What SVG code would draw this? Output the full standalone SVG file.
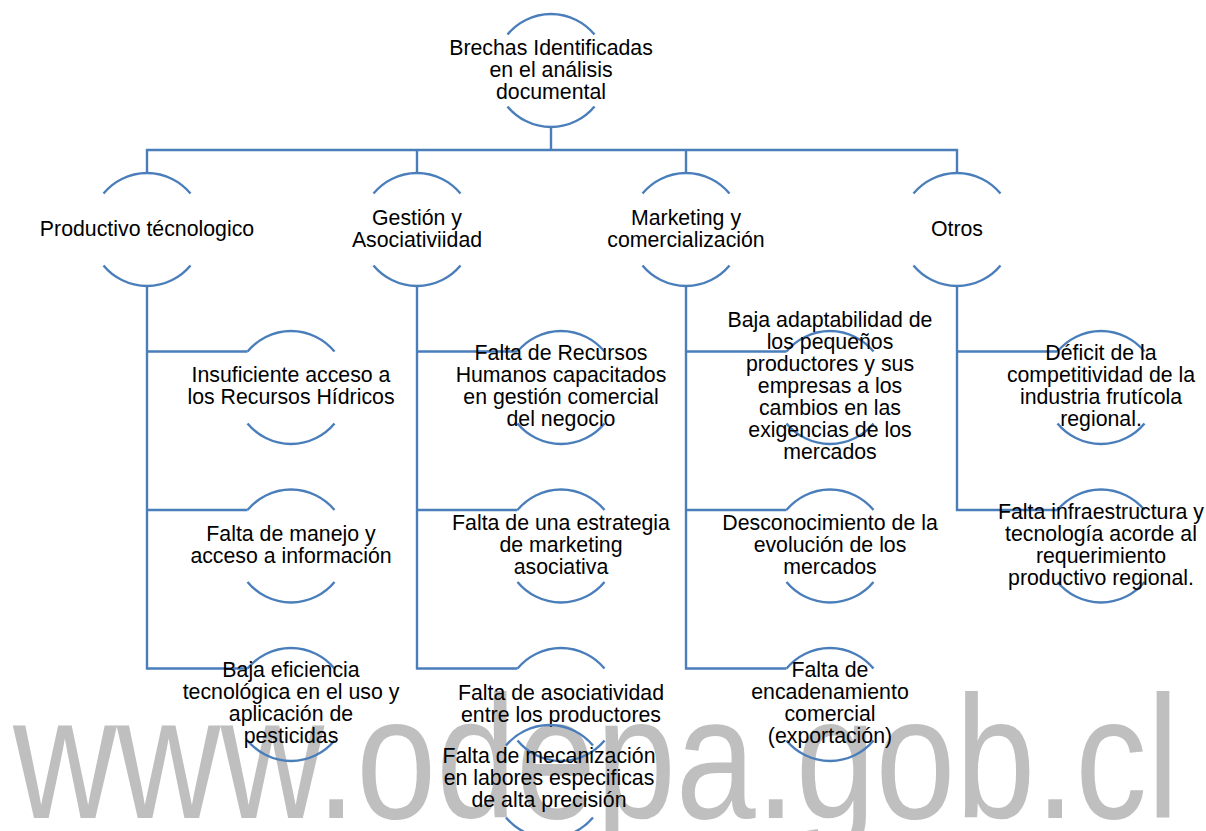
<svg xmlns="http://www.w3.org/2000/svg" width="1206" height="831" viewBox="0 0 1206 831">
<style>
.arc{fill:none;stroke:#4a7ebb;stroke-width:2.4}
.con{fill:none;stroke:#4a7ebb;stroke-width:2.4}
.t{font-family:"Liberation Sans",Arial,sans-serif;font-size:21.3px;fill:#000;text-anchor:middle}
.wm{font-family:"Liberation Sans",Arial,sans-serif;font-size:174px;fill:#bfbfbf}
</style>
<rect width="1206" height="831" fill="#fff"/>
<text class="wm" x="13" y="818" textLength="1166" lengthAdjust="spacingAndGlyphs">www.odepa.gob.cl</text>
<g id="connectors">
<path class="con" d="M551,127 V150 M147,173 V150 H957 V173 M417,150 V173 M686,150 V173"/>
<path class="con" d="M147,286 V668.5 H247.5 M147,351.5 H247.5 M147,510 H247.5"/>
<path class="con" d="M417,286 V668.5 H517.5 M417,351.5 H517.5 M417,510 H517.5"/>
<path class="con" d="M686,286 V668.5 H786.5 M686,351.5 H786.5 M686,510 H786.5"/>
<path class="con" d="M957,286 V510 H1057.5 M957,351.5 H1057.5"/>
</g>
<g id="n0">
<path class="arc" d="M507.5,34.5 A56.5,56.5 0 0 1 594.5,34.5 M507.5,106.5 A56.5,56.5 0 0 0 594.5,106.5"/>
<text class="t" x="551"><tspan x="551" y="55">Brechas Identificadas</tspan><tspan x="551" y="77">en el análisis</tspan><tspan x="551" y="99">documental</tspan></text>
</g>
<g id="n1">
<path class="arc" d="M103.5,193.5 A56.5,56.5 0 0 1 190.5,193.5 M103.5,265.5 A56.5,56.5 0 0 0 190.5,265.5"/>
<text class="t" x="147" y="236">Productivo técnologico</text>
</g>
<g id="n2">
<path class="arc" d="M373.5,193.5 A56.5,56.5 0 0 1 460.5,193.5 M373.5,265.5 A56.5,56.5 0 0 0 460.5,265.5"/>
<text class="t"><tspan x="417" y="225">Gestión y</tspan><tspan x="417" y="247">Asociativiidad</tspan></text>
</g>
<g id="n3">
<path class="arc" d="M642.5,193.5 A56.5,56.5 0 0 1 729.5,193.5 M642.5,265.5 A56.5,56.5 0 0 0 729.5,265.5"/>
<text class="t"><tspan x="686" y="225">Marketing y</tspan><tspan x="686" y="247">comercialización</tspan></text>
</g>
<g id="n4">
<path class="arc" d="M913.5,193.5 A56.5,56.5 0 0 1 1000.5,193.5 M913.5,265.5 A56.5,56.5 0 0 0 1000.5,265.5"/>
<text class="t" x="957" y="236">Otros</text>
</g>
<g id="n1a">
<path class="arc" d="M247.5,351.5 A56.5,56.5 0 0 1 334.5,351.5 M247.5,423.5 A56.5,56.5 0 0 0 334.5,423.5"/>
<text class="t"><tspan x="291" y="382">Insuficiente acceso a</tspan><tspan x="291" y="404">los Recursos Hídricos</tspan></text>
</g>
<g id="n1b">
<path class="arc" d="M247.5,510 A56.5,56.5 0 0 1 334.5,510 M247.5,582 A56.5,56.5 0 0 0 334.5,582"/>
<text class="t"><tspan x="291" y="541">Falta de manejo y</tspan><tspan x="291" y="563">acceso a información</tspan></text>
</g>
<g id="n1c">
<path class="arc" d="M247.5,668.5 A56.5,56.5 0 0 1 334.5,668.5 M247.5,740.5 A56.5,56.5 0 0 0 334.5,740.5"/>
<text class="t"><tspan x="291" y="677">Baja eficiencia</tspan><tspan x="291" y="699">tecnológica en el uso y</tspan><tspan x="291" y="721">aplicación de</tspan><tspan x="291" y="743">pesticidas</tspan></text>
</g>
<g id="n2a">
<path class="arc" d="M517.5,351.5 A56.5,56.5 0 0 1 604.5,351.5 M517.5,423.5 A56.5,56.5 0 0 0 604.5,423.5"/>
<text class="t"><tspan x="561" y="360">Falta de Recursos</tspan><tspan x="561" y="382">Humanos capacitados</tspan><tspan x="561" y="404">en gestión comercial</tspan><tspan x="561" y="426">del negocio</tspan></text>
</g>
<g id="n2b">
<path class="arc" d="M517.5,510 A56.5,56.5 0 0 1 604.5,510 M517.5,582 A56.5,56.5 0 0 0 604.5,582"/>
<text class="t"><tspan x="561" y="530">Falta de una estrategia</tspan><tspan x="561" y="552">de marketing</tspan><tspan x="561" y="574">asociativa</tspan></text>
</g>
<g id="n2c">
<path class="arc" d="M517.5,668.5 A56.5,56.5 0 0 1 604.5,668.5 M517.5,740.5 A56.5,56.5 0 0 0 604.5,740.5"/>
<text class="t"><tspan x="561" y="700">Falta de asociatividad</tspan><tspan x="561" y="722">entre los productores</tspan></text>
</g>
<g id="n2d">
<path class="arc" d="M506,745.5 A56.5,56.5 0 0 1 593,745.5 M506,817.5 A56.5,56.5 0 0 0 593,817.5"/>
<text class="t"><tspan x="549" y="763">Falta de mecanización</tspan><tspan x="549" y="785">en labores especificas</tspan><tspan x="549" y="807">de alta precisión</tspan></text>
</g>
<g id="n3a">
<path class="arc" d="M786.5,351.5 A56.5,56.5 0 0 1 873.5,351.5 M786.5,423.5 A56.5,56.5 0 0 0 873.5,423.5"/>
<text class="t"><tspan x="830" y="327">Baja adaptabilidad de</tspan><tspan x="830" y="349">los pequeños</tspan><tspan x="830" y="371">productores y sus</tspan><tspan x="830" y="393">empresas a los</tspan><tspan x="830" y="415">cambios en las</tspan><tspan x="830" y="437">exigencias de los</tspan><tspan x="830" y="459">mercados</tspan></text>
</g>
<g id="n3b">
<path class="arc" d="M786.5,510 A56.5,56.5 0 0 1 873.5,510 M786.5,582 A56.5,56.5 0 0 0 873.5,582"/>
<text class="t"><tspan x="830" y="530">Desconocimiento de la</tspan><tspan x="830" y="552">evolución de los</tspan><tspan x="830" y="574">mercados</tspan></text>
</g>
<g id="n3c">
<path class="arc" d="M786.5,668.5 A56.5,56.5 0 0 1 873.5,668.5 M786.5,740.5 A56.5,56.5 0 0 0 873.5,740.5"/>
<text class="t"><tspan x="830" y="677">Falta de</tspan><tspan x="830" y="699">encadenamiento</tspan><tspan x="830" y="721">comercial</tspan><tspan x="830" y="743">(exportación)</tspan></text>
</g>
<g id="n4a">
<path class="arc" d="M1057.5,351.5 A56.5,56.5 0 0 1 1144.5,351.5 M1057.5,423.5 A56.5,56.5 0 0 0 1144.5,423.5"/>
<text class="t"><tspan x="1101" y="360">Déficit de la</tspan><tspan x="1101" y="382">competitividad de la</tspan><tspan x="1101" y="404">industria frutícola</tspan><tspan x="1101" y="426">regional.</tspan></text>
</g>
<g id="n4b">
<path class="arc" d="M1057.5,510 A56.5,56.5 0 0 1 1144.5,510 M1057.5,582 A56.5,56.5 0 0 0 1144.5,582"/>
<text class="t"><tspan x="1101" y="519">Falta infraestructura y</tspan><tspan x="1101" y="541">tecnología acorde al</tspan><tspan x="1101" y="563">requerimiento</tspan><tspan x="1101" y="585">productivo regional.</tspan></text>
</g>
</svg>
